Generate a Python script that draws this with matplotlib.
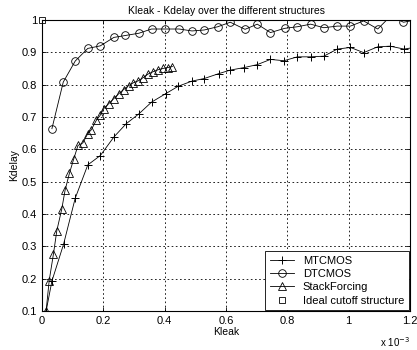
import matplotlib
matplotlib.use('Agg')
import matplotlib.pyplot as plt

plt.rcParams['font.family'] = ['Liberation Sans', 'DejaVu Sans']

# Kleak values are in units of 1e-3
mt_x = [0.013, 0.032, 0.070, 0.108, 0.149, 0.190, 0.234, 0.274, 0.316, 0.357, 0.403, 0.444, 0.489, 0.529,
        0.576, 0.614, 0.660, 0.702, 0.745, 0.789, 0.833, 0.876, 0.919, 0.963, 1.006, 1.049, 1.095, 1.135,
        1.181, 1.22]
mt_y = [0.100, 0.193, 0.307, 0.449, 0.552, 0.581, 0.638, 0.679, 0.710, 0.746, 0.772, 0.795, 0.811, 0.819,
        0.834, 0.845, 0.853, 0.862, 0.878, 0.874, 0.886, 0.886, 0.888, 0.910, 0.915, 0.899, 0.917, 0.919,
        0.910, 0.916]

dt_x = [0.032, 0.069, 0.108, 0.149, 0.190, 0.234, 0.272, 0.316, 0.357, 0.400, 0.447, 0.489, 0.529, 0.573,
        0.614, 0.662, 0.702, 0.745, 0.791, 0.833, 0.876, 0.919, 0.963, 1.006, 1.049, 1.095, 1.137, 1.179, 1.22]
dt_y = [0.664, 0.808, 0.873, 0.912, 0.920, 0.946, 0.952, 0.959, 0.972, 0.972, 0.972, 0.966, 0.969, 0.979,
        0.993, 0.971, 0.987, 0.961, 0.974, 0.979, 0.987, 0.976, 0.981, 0.981, 0.997, 0.972, 1.012, 0.993, 1.0]

sf_x = [0.013, 0.023, 0.037, 0.048, 0.064, 0.075, 0.089, 0.103, 0.117, 0.133, 0.149, 0.160, 0.177, 0.190,
        0.201, 0.217, 0.234, 0.250, 0.266, 0.282, 0.298, 0.314, 0.330, 0.346, 0.362, 0.378, 0.394, 0.410, 0.425]
sf_y = [0.100, 0.194, 0.277, 0.349, 0.415, 0.474, 0.526, 0.570, 0.612, 0.620, 0.649, 0.660, 0.690, 0.706,
        0.726, 0.741, 0.757, 0.772, 0.785, 0.797, 0.806, 0.812, 0.822, 0.833, 0.840, 0.846, 0.850, 0.853, 0.856]

ideal_x = [0.0]
ideal_y = [1.0]

fig = plt.figure(figsize=(4.17, 3.5), dpi=100)
ax = fig.add_axes([0.101, 0.111, 0.882, 0.832])

ax.plot(mt_x, mt_y, color='k', lw=0.6, marker='+', ms=6, mew=0.7, label='MTCMOS')
ax.plot(dt_x, dt_y, color='k', lw=0.6, marker='o', ms=5.5, mew=0.6, mfc='none', label='DTCMOS')
ax.plot(sf_x, sf_y, color='k', lw=0.6, marker='^', ms=6, mew=0.6, mfc='none', label='StackForcing')
ax.plot(ideal_x, ideal_y, ls='none', color='k', marker='s', ms=5, mew=0.6, mfc='none',
        label='Ideal cutoff structure', clip_on=False)

ax.set_xlim(0, 1.2)
ax.set_ylim(0.1, 1.0)
ax.set_xticks([0, 0.2, 0.4, 0.6, 0.8, 1.0, 1.2])
ax.set_xticklabels(['0', '0.2', '0.4', '0.6', '0.8', '1', '1.2'])
ax.set_yticks([0.1, 0.2, 0.3, 0.4, 0.5, 0.6, 0.7, 0.8, 0.9, 1.0])
ax.set_yticklabels(['0.1', '0.2', '0.3', '0.4', '0.5', '0.6', '0.7', '0.8', '0.9', '1'])
ax.grid(True, color='k', ls=(0, (2, 3)), lw=0.6)
ax.tick_params(direction='in', labelsize=8, length=3, width=0.6, top=True, right=True)
for s in ax.spines.values():
    s.set_linewidth(0.8)

ax.set_title('Kleak - Kdelay over the different structures', fontsize=7.5, pad=4)
ax.set_xlabel('Kleak', fontsize=7.5, labelpad=1)
ax.set_ylabel('Kdelay', fontsize=7.5, labelpad=2)
ax.text(1.0, -0.105, r'x 10$^{-3}$', transform=ax.transAxes, ha='right', va='center', fontsize=7)

leg = ax.legend(loc='lower right', fontsize=8, fancybox=False, framealpha=1, edgecolor='k',
                borderaxespad=0.1, handlelength=2.2, labelspacing=0.3, borderpad=0.4)
leg.get_frame().set_linewidth(0.6)

fig.savefig('out.png', dpi=100)
